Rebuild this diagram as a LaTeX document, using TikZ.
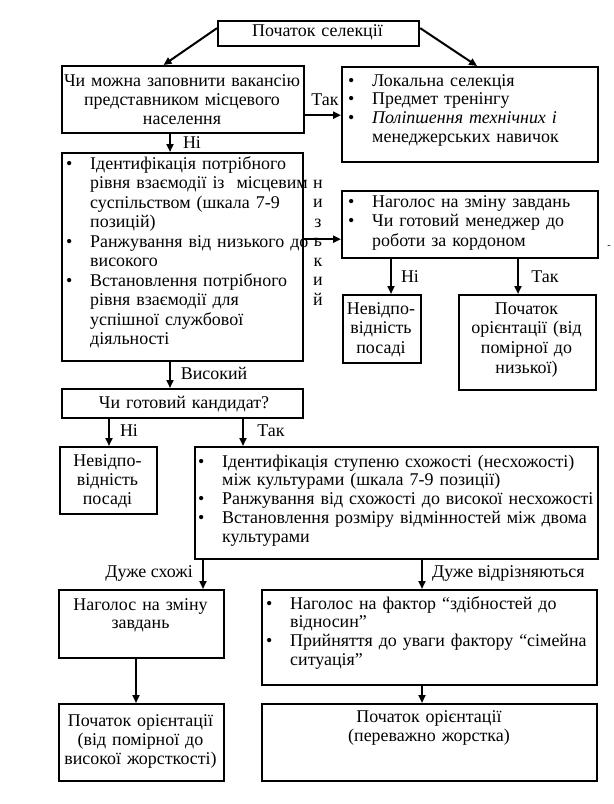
\documentclass[tikz,border=0pt]{standalone}
\usepackage{fontspec}
\setmainfont{Liberation Serif}
\usetikzlibrary{arrows.meta,calc}
\tikzset{
 box/.style={draw, line width=2.2bp, inner sep=0pt, anchor=north west},
 txt/.style={inner sep=0pt, font=\fontsize{18}{19.5}\selectfont},
 ctxt/.style={txt, text width=300bp, align=center, anchor=base},
 ltxt/.style={txt, text width=420bp, align=left, anchor=base west},
 arr/.style={line width=2bp, -{Triangle[length=8bp,width=7bp]}},
}
\newcommand{\bul}{\makebox[24bp][l]{•}}
\newcommand{\ind}{\hspace*{24bp}}
\begin{document}
\begin{tikzpicture}[x=1bp,y=-1bp]
\useasboundingbox (0,0) rectangle (614,804);
% boxes
\node[box, minimum width=201bp, minimum height=25bp] (top) at (217,20) {};
\node[box, minimum width=242bp, minimum height=67bp] (box1) at (61,65) {};
\node[box, minimum width=256bp, minimum height=95bp] (right1) at (341,66) {};
\node[box, minimum width=241bp, minimum height=208bp] (ident) at (61,152) {};
\node[box, minimum width=256bp, minimum height=67bp] (right2) at (341,190) {};
\node[box, minimum width=78bp, minimum height=68bp] (N1) at (342,294) {};
\node[box, minimum width=137bp, minimum height=95bp] (P1) at (458,294) {};
\node[box, minimum width=241bp, minimum height=29bp] (Q) at (61,388) {};
\node[box, minimum width=97bp, minimum height=67bp] (N2) at (59,446) {};
\node[box, minimum width=403bp, minimum height=112bp] (B) at (194,446) {};
\node[box, minimum width=165bp, minimum height=68bp] (C) at (58,589) {};
\node[box, minimum width=335bp, minimum height=95bp] (D) at (261,589) {};
\node[box, minimum width=165bp, minimum height=77bp] (E) at (58,703) {};
\node[box, minimum width=335bp, minimum height=77bp] (F) at (261,703) {};
% texts
\node[ctxt] (top-t) at (317.5,37) {Початок селекції};
\node[ctxt] (box1-t) at (182,86) {Чи можна заповнити вакансію\\представником місцевого\\населення};
\node[ltxt, font=\fontsize{18}{19}\selectfont] (right1-t) at (348,86) {\bul Локальна селекція\\\bul Предмет тренінгу\\\bul \textit{Поліпшення технічних і}\\\ind менеджерських навичок};
\node[ltxt, font=\fontsize{18}{19.6}\selectfont] (ident-t) at (66,169) {\bul Ідентифікація потрібного\\\ind рівня взаємодії із\ \ місцевим\\\ind суспільством (шкала 7-9\\\ind позицій)\\\bul Ранжування від низького до\\\ind високого\\\bul Встановлення потрібного\\\ind рівня взаємодії для\\\ind успішної службової\\\ind діяльності};
\node[ctxt, font=\fontsize{18}{19.6}\selectfont] (niz) at (318,188) {н\\и\\з\\ь\\к\\и\\й};
\node[ltxt, font=\fontsize{18}{20}\selectfont] (right2-t) at (348,207) {\bul Наголос на зміну завдань\\\bul Чи готовий менеджер до\\\ind роботи за кордоном};
\node[ctxt, font=\fontsize{18}{20}\selectfont] (N1-t) at (381,314) {Невідпо-\\відність\\посаді};
\node[ctxt, font=\fontsize{18}{20}\selectfont] (P1-t) at (526.5,314) {Початок\\орієнтації (від\\помірної до\\низької)};
\node[ctxt] (Q-t) at (184,408) {Чи готовий кандидат?};
\node[ctxt, font=\fontsize{18}{19.5}\selectfont] (N2-t) at (107.5,466) {Невідпо-\\відність\\посаді};
\node[ltxt, font=\fontsize{18}{19}\selectfont] (B-t) at (198,467) {\bul Ідентифікація ступеню схожості (несхожості)\\\ind між культурами (шкала 7-9 позиції)\\\bul Ранжування від схожості до високої несхожості\\\bul Встановлення розміру відмінностей між двома\\\ind культурами};
\node[ctxt, font=\fontsize{18}{18.5}\selectfont] (C-t) at (140.5,610) {Наголос на зміну\\завдань};
\node[ltxt, font=\fontsize{18}{19}\selectfont] (D-t) at (266,609) {\bul Наголос на фактор “здібностей до\\\ind відносин”\\\bul Прийняття до уваги фактору “сімейна\\\ind ситуація”};
\node[ctxt, font=\fontsize{18}{19.3}\selectfont] (E-t) at (140.5,726) {Початок орієнтації\\(від помірної до\\високої жорсткості)};
\node[ctxt, font=\fontsize{18}{20}\selectfont] (F-t) at (429,722) {Початок орієнтації\\(переважно жорстка)};
\node[txt, font=\fontsize{10}{10}\selectfont] (dash) at (609,247) {-};
% labels
\node[txt] (l-tak1) at (325,100) {Так};
\node[txt] (l-ni1) at (192,143) {Ні};
\node[txt] (l-ni2) at (410,277) {Ні};
\node[txt] (l-tak2) at (545,277) {Так};
\node[txt] (l-vys) at (214,373) {Високий};
\node[txt] (l-ni3) at (129,431) {Ні};
\node[txt] (l-tak3) at (271,431) {Так};
\node[txt, anchor=east] (l-sx) at (193,573) {Дуже схожі};
\node[txt, anchor=west] (l-vr) at (432,573) {Дуже відрізняються};
% connectors
\draw[arr] ($(top.north west)!0.3!(top.south west)$) -- ($(box1.north west)!0.42!(box1.north east)$);
\draw[arr] ($(top.north east)!0.3!(top.south east)$) -- ($(right1.north west)!0.527!(right1.north east)$);
\coordinate (a1) at ($(box1.south east)+(0,-19)$);
\draw[arr] (a1) -- (a1 -| right1.west);
\coordinate (a2) at ($(box1.south west)+(109,0)$);
\draw[arr] (a2) -- (a2 |- ident.north);
\coordinate (a3) at ($(right2.south west)+(0,-20)$);
\draw[arr] (a3 -| ident.east) -- (a3);
\coordinate (a4) at ($(right2.south west)+(50,0)$);
\draw[arr] (a4) -- (a4 |- N1.north);
\coordinate (a5) at ($(right2.south west)+(177,0)$);
\draw[arr] (a5) -- (a5 |- P1.north);
\coordinate (a6) at ($(ident.south west)+(109,0)$);
\draw[arr] (a6) -- (a6 |- Q.north);
\coordinate (a7) at ($(Q.south west)+(48,0)$);
\draw[arr] (a7) -- (a7 |- N2.north);
\coordinate (a8) at ($(Q.south west)+(182,0)$);
\draw[arr] (a8) -- (a8 |- B.north);
\coordinate (a9) at ($(B.south west)+(9,0)$);
\draw[arr] (a9) -- (a9 |- C.north);
\coordinate (a10) at ($(B.south west)+(228,0)$);
\draw[arr] (a10) -- (a10 |- D.north);
\coordinate (a11) at ($(C.south west)+(78,0)$);
\draw[arr] (a11) -- (a11 |- E.north);
\coordinate (a12) at ($(D.south west)+(161,0)$);
\draw[arr] (a12) -- (a12 |- F.north);
\end{tikzpicture}
\end{document}
